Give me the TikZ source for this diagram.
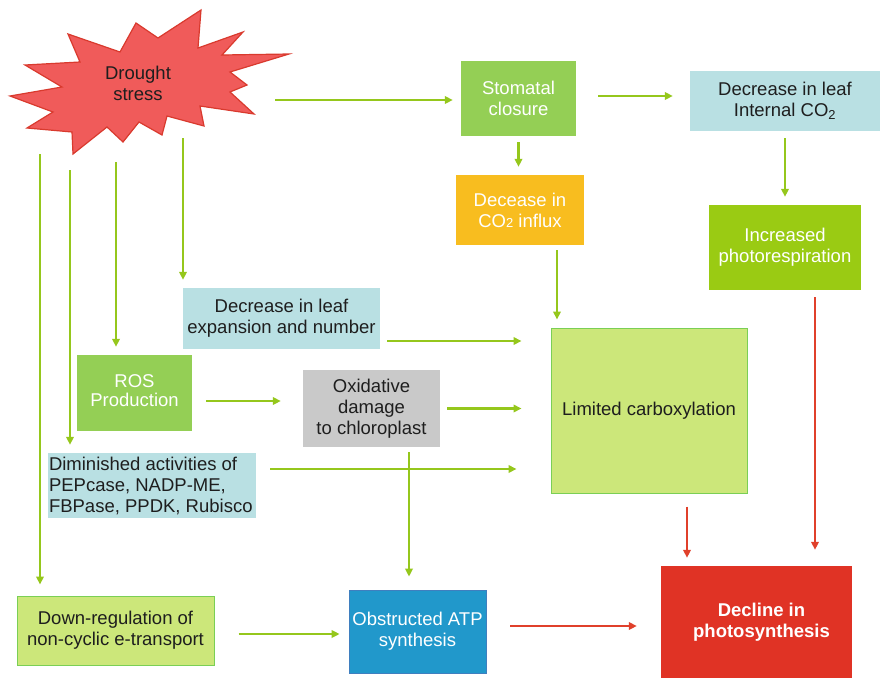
\documentclass[tikz,border=0pt]{standalone}
\usepackage{fontspec}
\setmainfont{Liberation Sans}
\usetikzlibrary{arrows.meta}
\definecolor{gArrow}{HTML}{95C71C}
\definecolor{rArrow}{HTML}{E0402B}
\definecolor{midGreen}{HTML}{94CF55}
\definecolor{lightBlue}{HTML}{B9E0E3}
\definecolor{orangeF}{HTML}{F8BD1F}
\definecolor{limeF}{HTML}{9ACB13}
\definecolor{greyF}{HTML}{C9C9C9}
\definecolor{paleGreen}{HTML}{CCE77A}
\definecolor{paleBorder}{HTML}{7ACF55}
\definecolor{blueF}{HTML}{2198CB}
\definecolor{blueD}{HTML}{3F7FBF}
\definecolor{redF}{HTML}{E03325}
\definecolor{starF}{HTML}{F05B5A}
\definecolor{starD}{HTML}{D93A2E}
\definecolor{txt}{HTML}{1E1E1E}
\begin{document}
\begin{tikzpicture}[x=1pt,y=-1pt,
  box/.style={rectangle, inner sep=0pt, align=center,
    font=\fontsize{18.5}{21}\selectfont, text=txt},
  garr/.style={draw=gArrow, line width=2.8pt, -{Triangle[length=8pt,width=7.5pt]}},
  rarr/.style={draw=rArrow, line width=2.8pt, -{Triangle[length=8pt,width=7.5pt]}},
  starshape/.style={fill=starF, draw=starD, line width=1.2pt, line join=miter}
]
\useasboundingbox (0,0) rectangle (880,678);

% star
\draw[starshape] (10,96) -- (62,87) -- (25,65) -- (80,62) -- (68,34) -- (120,52)
  -- (136,23) -- (158,38) -- (201,10) -- (198,48) -- (243,32) -- (222,55)
  -- (289,54) -- (230,72) -- (247,85) -- (230,92) -- (254,114) -- (200,106)
  -- (204,126) -- (167,116) -- (162,135) -- (139,122) -- (123,142) -- (107,127)
  -- (73,154) -- (72,132) -- (27,128) -- (53,112) -- cycle;
\node[box] (drought) at (138,83) {Drought\\stress};

% boxes
\node[box, fill=midGreen, text=white, minimum width=115pt, minimum height=75pt]
  (stom) at (518.5,98.5) {Stomatal\\closure};
\node[box, fill=lightBlue, minimum width=190pt, minimum height=60pt]
  (intco2) at (785,101) {Decrease in leaf\\Internal CO\textsubscript{2}};
\node[box, fill=orangeF, text=white, minimum width=128pt, minimum height=70pt]
  (influx) at (520,210) {Decease in\\CO{\fontsize{13}{13}\selectfont 2} influx};
\node[box, fill=limeF, text=white, minimum width=152pt, minimum height=85pt]
  (photo) at (785,247.5) {Increased\\photorespiration};
\node[box, fill=lightBlue, minimum width=197pt, minimum height=61pt]
  (leafexp) at (281.5,318.5) {Decrease in leaf\\expansion and number};
\node[box, fill=midGreen, text=white, minimum width=115pt, minimum height=76pt]
  (ros) at (134.5,393) {\raisebox{5pt}{\begin{tabular}{@{}c@{}}ROS\\[-2pt]Production\end{tabular}}};
\node[box, fill=greyF, minimum width=137pt, minimum height=77pt]
  (oxid) at (371.5,408.5) {Oxidative\\damage\\to chloroplast};
\node[box, fill=lightBlue, minimum width=208pt, minimum height=65pt, align=flush left,
  text width=206pt]
  (dimin) at (152,485.5) {Diminished activities of\\PEPcase, NADP-ME,\\FBPase, PPDK, Rubisco};
\node[box, fill=paleGreen, draw=paleBorder, line width=1pt, minimum width=196pt, minimum height=165pt]
  (limited) at (649,410.5) {Limited carboxylation};
\node[box, fill=paleGreen, draw=paleBorder, line width=1pt, minimum width=197pt, minimum height=69pt]
  (downreg) at (115.5,630.5) {Down-regulation of\\non-cyclic e-transport};
\node[box, fill=blueF, draw=blueD, line width=0.8pt, text=white, minimum width=137pt, minimum height=83pt]
  (atp) at (417.5,631.5) {Obstructed ATP\\synthesis};
\node[box, fill=redF, text=white, font=\fontsize{18.5}{21}\selectfont\bfseries,
  minimum width=191pt, minimum height=112pt]
  (decline) at (756.5,622) {\hspace*{10pt}Decline in\\\hspace*{10pt}photosynthesis};

% free start points on the star
\coordinate (sE) at (275,100);
\coordinate (s1) at (40,154);
\coordinate (s2) at (70,170);
\coordinate (s3) at (116,162);
\coordinate (s4) at (183,138);

% green connectors
\draw[garr, shorten >=8pt] (sE) -- (stom.west |- sE);
\draw[garr, shorten <=22pt, shorten >=17pt] ([yshift=2.5pt]stom.east) -- ([yshift=5pt]intco2.west);
\draw[garr, shorten <=6pt, shorten >=8pt] (stom.south) -- (stom.south |- influx.north);
\draw[garr, shorten <=7pt, shorten >=8pt] (intco2.south) -- (photo.north);
\draw[garr, shorten <=5pt, shorten >=8pt] ([xshift=37pt]influx.south) -- ([xshift=37pt]influx.south |- limited.north);
\draw[garr, shorten <=7pt, shorten >=29pt] ([yshift=-22.5pt]leafexp.east) -- ([yshift=-22.5pt]leafexp.east -| limited.west);
\draw[garr, shorten <=14pt, shorten >=22pt] ([yshift=-8pt]ros.east) -- ([yshift=-8pt]ros.east -| oxid.west);
\draw[garr, shorten <=7pt, shorten >=29pt] (oxid.east) -- (oxid.east -| limited.west);
\draw[garr, shorten <=14pt, shorten >=34pt] ([yshift=16.5pt]dimin.east) -- ([yshift=16.5pt]dimin.east -| limited.west);
\draw[garr, shorten <=5pt, shorten >=13pt] ([xshift=37.5pt]oxid.south) -- ([xshift=37.5pt]oxid.south |- atp.north);
\draw[garr, shorten <=24pt, shorten >=9pt] ([yshift=-3.5pt]downreg.east) -- ([yshift=-3.5pt]downreg.east -| atp.west);
\draw[garr, shorten >=11pt] (s1) -- (s1 |- downreg.north);
\draw[garr, shorten >=8pt] (s2) -- (s2 |- dimin.north);
\draw[garr, shorten >=8pt] (s3) -- (s3 |- ros.north);
\draw[garr, shorten >=8pt] (s4) -- (s4 |- leafexp.north);

% red connectors
\draw[rarr, shorten <=24pt, shorten >=24pt] ([yshift=5.5pt]atp.east) -- ([yshift=5.5pt]atp.east -| decline.west);
\draw[rarr, shorten <=13pt, shorten >=8pt] ([xshift=38pt]limited.south) -- ([xshift=38pt]limited.south |- decline.north);
\draw[rarr, shorten <=7pt, shorten >=16pt] ([xshift=30pt]photo.south) -- ([xshift=30pt]photo.south |- decline.north);
\end{tikzpicture}
\end{document}
